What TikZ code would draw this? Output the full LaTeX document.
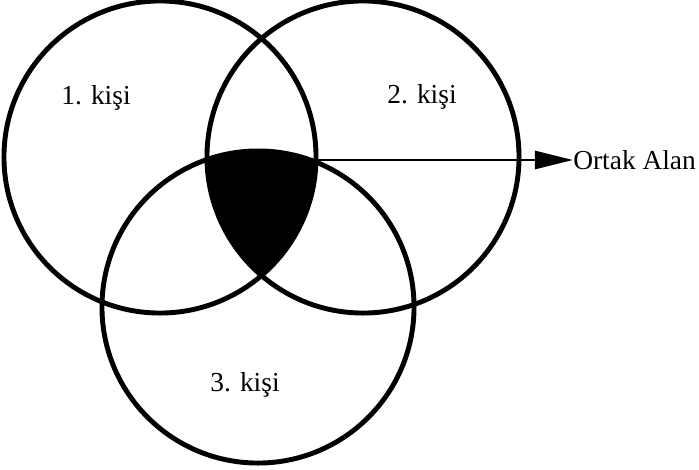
\documentclass[tikz,border=0pt]{standalone}
\usepackage{fontspec}
\setmainfont{Liberation Serif}
\usetikzlibrary{arrows.meta, positioning}

\begin{document}
\begin{tikzpicture}[x=0.025cm, y=-0.025cm,
  kume/.style={draw, line width=3.5pt},
  etiket/.style={font=\fontsize{19.5}{23}\selectfont, inner sep=0pt},
]
  \useasboundingbox (0,0) rectangle (699,469);

  % circle centres
  \coordinate (m1) at (160,157);
  \coordinate (m2) at (363,157);
  \coordinate (m3) at (258,307);

  % common area
  \begin{scope}
    \clip (m1) circle[radius=3.9cm];
    \clip (m2) circle[radius=3.9cm];
    \fill (m3) circle[radius=3.9cm];
  \end{scope}

  \draw[kume] (m1) circle[radius=3.9cm];
  \draw[kume] (m2) circle[radius=3.9cm];
  \draw[kume] (m3) circle[radius=3.9cm];

  \node[etiket] (k1) at (96,98) {1. kişi};
  \node[etiket] (k2) at (422,97) {2. kişi};
  \node[etiket] (k3) at (245,385) {3. kişi};

  % arrow to label
  \coordinate (kesisim) at (315,160);
  \node[etiket, anchor=west] (ortak) at (573,160) {Ortak Alan};
  \draw[line width=2pt, -{Triangle[length=0.95cm, width=0.45cm]}] (kesisim) -- (ortak.west);
\end{tikzpicture}
\end{document}
